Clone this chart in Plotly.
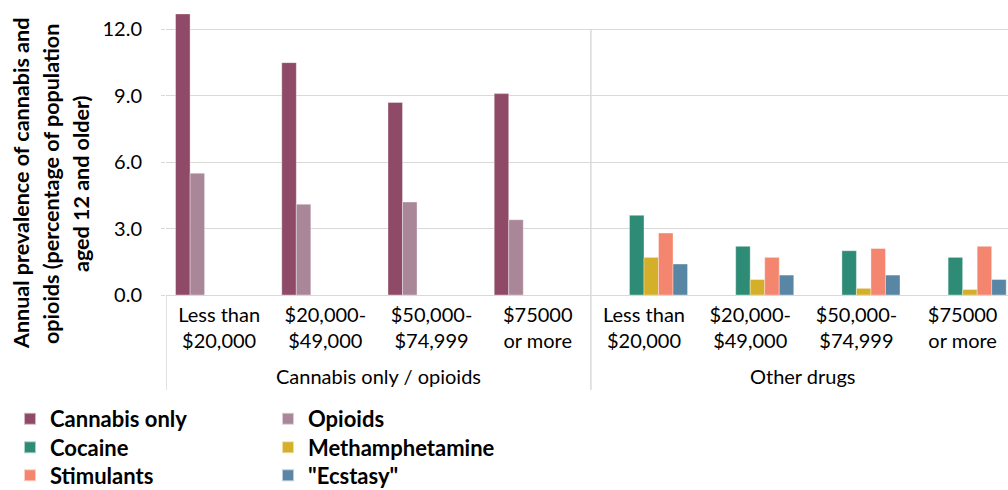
import plotly.graph_objects as go

# Income brackets (tick labels) and the two drug groupings
income = ["Less than<br>$20,000", "$20,000-<br>$49,000", "$50,000-<br>$74,999", "$75000<br>or more"]
groups = ["Cannabis only / opioids", "Other drugs"]

# Annual prevalence (%), one value per income bracket
cannabis_only = [12.7, 10.5, 8.7, 9.1]
opioids = [5.5, 4.1, 4.2, 3.4]
cocaine = [3.6, 2.2, 2.0, 1.7]
methamphetamine = [1.7, 0.7, 0.3, 0.25]
stimulants = [2.8, 1.7, 2.1, 2.2]
ecstasy = [1.4, 0.9, 0.9, 0.7]

y_ticks = [0, 3, 6, 9, 12]

# One unique category per (grouping, income bracket)
categories = [f"{g} | {inc}" for g in groups for inc in income]
tick_text = income + income
blank = [None] * 4

series = [
    ("Cannabis only", cannabis_only + blank, "#8E4A66"),
    ("Opioids", opioids + blank, "#AA8699"),
    ("Cocaine", blank + cocaine, "#2E8C76"),
    ("Methamphetamine", blank + methamphetamine, "#D4B02A"),
    ("Stimulants", blank + stimulants, "#F4856E"),
    ('"Ecstasy"', blank + ecstasy, "#5A86A5"),
]

FONT = "Lato, 'Open Sans', sans-serif"
GRID = "#d9d9d9"
W, H = 1008, 490
PLOT_L, PLOT_B = 166, 295          # plot area left edge / bottom edge (px)
PLOT_H = PLOT_B

# Legend laid out as two columns of three rows
legend_cols = [50, 308]            # text start (px) for each column
legend_rows = [419, 447.5, 475.5]  # item centre (px) for each row

fig = go.Figure()
legend_layout = {}
for i, (name, vals, color) in enumerate(series):
    key = "legend" if i == 0 else f"legend{i + 1}"
    fig.add_trace(go.Bar(
        x=categories, y=vals, name=name,
        marker=dict(color=color, line=dict(color="rgba(255,255,255,0.6)", width=0.6)),
        legend=key,
    ))
    col, row = i % 2, i // 2
    legend_layout[key] = dict(
        orientation="v", xref="container", yref="container",
        x=(legend_cols[col] - 40) / W, xanchor="left",
        y=1 - legend_rows[row] / H, yanchor="middle",
        font=dict(family=FONT, size=22, color="#000000", weight="bold"),
        itemsizing="constant", bgcolor="rgba(0,0,0,0)",
    )

fig.update_layout(
    width=W, height=H,
    margin=dict(l=PLOT_L, r=0, t=0, b=H - PLOT_B, autoexpand=False),
    paper_bgcolor="white", plot_bgcolor="white",
    barmode="group", bargap=0.18, bargroupgap=0,
    font=dict(family=FONT, size=20, color="#000000"),
    showlegend=True,
    **legend_layout,
)

fig.update_xaxes(
    type="category", range=[-0.5, 7.427],
    tickvals=categories, ticktext=tick_text,
    showgrid=False, showline=False, zeroline=False, ticks="",
    tickangle=0, ticklabelstandoff=6,
    tickfont=dict(family=FONT, size=20, color="#000000"),
)
fig.update_yaxes(
    range=[0, 13.33], tickvals=y_ticks, tickformat=".1f",
    showgrid=True, gridcolor=GRID, gridwidth=1.3,
    zeroline=True, zerolinecolor=GRID, zerolinewidth=1.3,
    showline=False, ticks="outside", ticklen=4, tickcolor=GRID,
    ticklabelstandoff=15,
    tickfont=dict(family=FONT, size=20, color="#000000"),
)

# Group dividers: through the plot between the groupings, and down through the labels
label_bottom = -(390 - PLOT_B) / PLOT_H
fig.add_shape(type="line", xref="x", yref="y", x0=3.5, x1=3.5, y0=0, y1=12,
              line=dict(color=GRID, width=1.5), layer="below")
for xb in [-0.5, 3.5, 7.5]:
    fig.add_shape(type="line", xref="x", yref="paper", x0=xb, x1=xb,
                  y0=0, y1=label_bottom, line=dict(color=GRID, width=1.5))

# Grouping labels centred under each set of four brackets
for gi, g in enumerate(groups):
    fig.add_annotation(
        text=g, xref="x", yref="paper", x=1.5 + 4 * gi, y=-(376 - PLOT_B) / PLOT_H,
        xanchor="center", yanchor="middle", showarrow=False,
        font=dict(family=FONT, size=20, color="#000000"),
    )

# Three-line rotated y-axis title
title_lines = ["Annual prevalence of cannabis and",
               "opioids (percentage of population",
               "aged 12 and older)"]
for i, line in enumerate(title_lines):
    fig.add_annotation(
        text=line, xref="paper", yref="paper",
        x=-(PLOT_L - (21 + 30 * i)) / (W - PLOT_L), xanchor="center",
        y=1 - 184 / PLOT_H, yanchor="middle",
        textangle=-90, showarrow=False,
        font=dict(family=FONT, size=21.5, color="#000000", weight="bold"),
    )

fig.write_html("out.html")
